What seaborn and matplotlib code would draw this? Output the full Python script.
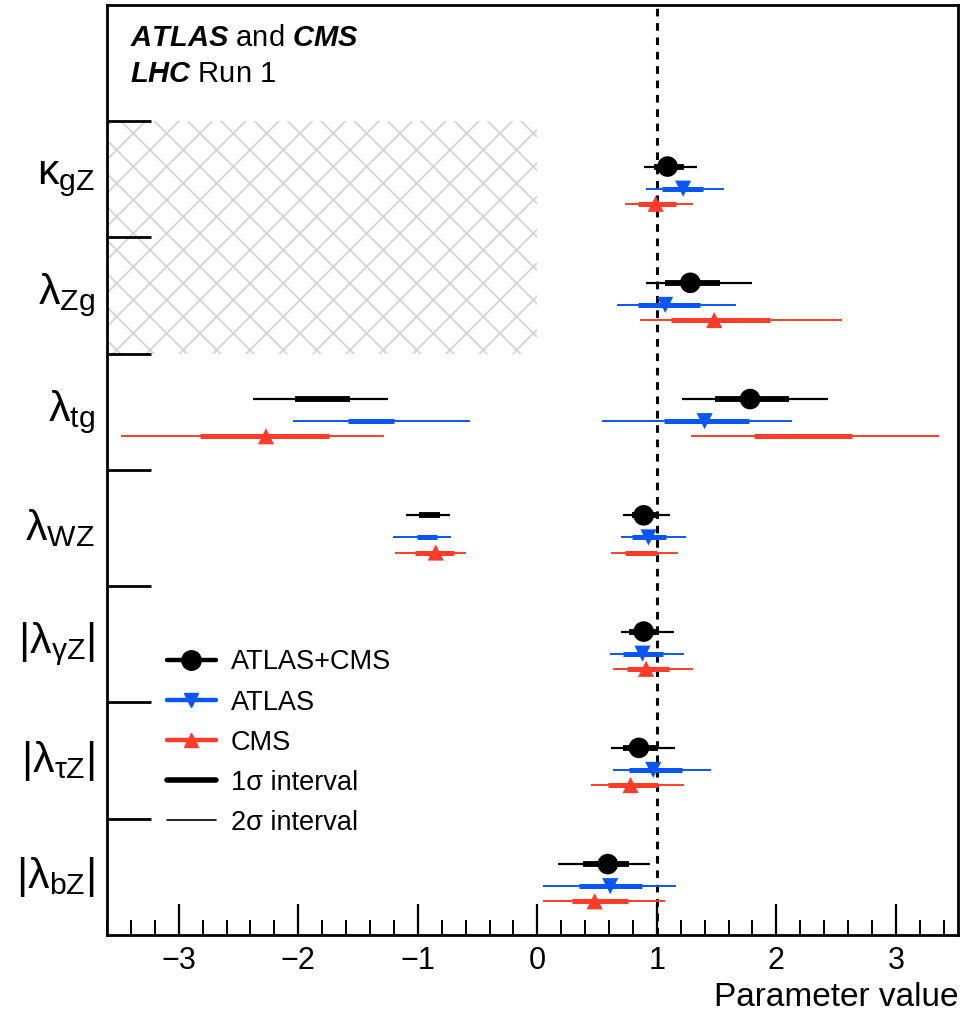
import numpy as np
import pandas as pd
import matplotlib
matplotlib.use("Agg")
import matplotlib.pyplot as plt
import seaborn as sns
from matplotlib.lines import Line2D
from matplotlib.patches import Rectangle

# parameters, top to bottom
params = [r"$\kappa_{gZ}$", r"$\lambda_{Zg}$", r"$\lambda_{tg}$", r"$\lambda_{WZ}$",
          r"$|\lambda_{\gamma Z}|$", r"$|\lambda_{\tau Z}|$", r"$|\lambda_{bZ}|$"]

# best-fit values
comb_best = [1.09, 1.28, 1.78, 0.89, 0.89, 0.85, 0.59]
atlas_best = [1.22, 1.07, 1.40, 0.93, 0.88, 0.97, 0.61]
cms_best = [0.99, 1.48, -2.27, -0.85, 0.91, 0.78, 0.48]

# 1 sigma / 2 sigma intervals (some parameters have two disjoint pieces)
comb_1s = [[(0.98, 1.23)], [(1.07, 1.53)], [(-2.03, -1.57), (1.49, 2.11)],
           [(-0.99, -0.81), (0.79, 0.99)], [(0.77, 1.02)], [(0.72, 1.01)], [(0.38, 0.77)]]
comb_2s = [[(0.89, 1.34)], [(0.91, 1.80)], [(-2.38, -1.25), (1.21, 2.43)],
           [(-1.10, -0.73), (0.72, 1.11)], [(0.70, 1.14)], [(0.62, 1.15)], [(0.17, 0.94)]]
atlas_1s = [[(1.04, 1.39)], [(0.84, 1.36)], [(-1.58, -1.20), (1.06, 1.77)],
            [(-1.01, -0.84), (0.79, 1.08)], [(0.72, 1.05)], [(0.77, 1.21)], [(0.35, 0.88)]]
atlas_2s = [[(0.91, 1.56)], [(0.67, 1.66)], [(-2.04, -0.56), (0.54, 2.13)],
            [(-1.21, -0.72), (0.70, 1.24)], [(0.61, 1.23)], [(0.63, 1.45)], [(0.05, 1.16)]]
cms_1s = [[(0.84, 1.16)], [(1.12, 1.95)], [(-2.82, -1.74), (1.81, 2.63)],
          [(-1.02, -0.70), (0.73, 1.00)], [(0.75, 1.10)], [(0.59, 1.01)], [(0.29, 0.76)]]
cms_2s = [[(0.73, 1.30)], [(0.86, 2.55)], [(-3.48, -1.28), (1.29, 3.36)],
          [(-1.19, -0.60), (0.62, 1.18)], [(0.63, 1.30)], [(0.45, 1.23)], [(0.05, 1.07)]]

# parameters that are defined positive only (hatched below 0)
positive_only = [r"$\kappa_{gZ}$", r"$\lambda_{Zg}$"]

sns.set_theme(style="ticks")
plt.rcParams["font.family"] = ["Liberation Sans", "DejaVu Sans"]
plt.rcParams["text.color"] = "black"
plt.rcParams["axes.labelcolor"] = "black"
plt.rcParams["xtick.color"] = "black"
plt.rcParams["ytick.color"] = "black"
plt.rcParams["mathtext.fontset"] = "custom"
plt.rcParams["mathtext.rm"] = "Liberation Sans"
plt.rcParams["mathtext.it"] = "Liberation Sans"
plt.rcParams["mathtext.bf"] = "Liberation Sans:bold:italic"
plt.rcParams["mathtext.default"] = "rm"
plt.rcParams["hatch.color"] = "#d4d4d4"
plt.rcParams["hatch.linewidth"] = 1.3

series = ["ATLAS+CMS", "ATLAS", "CMS"]
colors = {"ATLAS+CMS": "black", "ATLAS": "#0a56f5", "CMS": "#fd3d2a"}
markers = {"ATLAS+CMS": "o", "ATLAS": "v", "CMS": "^"}
msize = {"ATLAS+CMS": 220, "ATLAS": 135, "CMS": 135}
offset = {"ATLAS+CMS": 0.61, "ATLAS": 0.42, "CMS": 0.29}
lw1 = {"ATLAS+CMS": 4.2, "ATLAS": 3.6, "CMS": 3.6}
lw2 = {"ATLAS+CMS": 1.6, "ATLAS": 1.4, "CMS": 1.4}

n = len(params)
row_base = {p: n - 1 - i for i, p in enumerate(params)}

best = pd.DataFrame({
    "param": params * 3,
    "series": np.repeat(series, n),
    "value": comb_best + atlas_best + cms_best,
})
best["y"] = [row_base[p] + offset[s] for p, s in zip(best["param"], best["series"])]

fig = plt.figure(figsize=(9.67, 10.14), dpi=100)
ax = fig.add_axes([0.1107, 0.0779, 0.880, 0.9172])

xmin, xmax = -3.6, 3.52
ax.set_xlim(xmin, xmax)
ax.set_ylim(0, n + 1)

# hatched excluded region
for p in positive_only:
    ax.add_patch(Rectangle((xmin, row_base[p]), 0 - xmin, 1, facecolor="none",
                           edgecolor="#d4d4d4", hatch="x", linewidth=0, zorder=0))

ax.axvline(1, color="black", ls=(0, (2.5, 2.2)), lw=2.2, zorder=1)

ints = {"ATLAS+CMS": (comb_1s, comb_2s), "ATLAS": (atlas_1s, atlas_2s), "CMS": (cms_1s, cms_2s)}
for s in series:
    one, two = ints[s]
    for p, segs1, segs2 in zip(params, one, two):
        y = row_base[p] + offset[s]
        for lo, hi in segs2:
            ax.hlines(y, lo, hi, color=colors[s], lw=lw2[s], zorder=2)
        for lo, hi in segs1:
            ax.hlines(y, lo, hi, color=colors[s], lw=lw1[s], zorder=3)

for s in series:
    sub = best[best["series"] == s]
    sns.scatterplot(data=sub, x="value", y="y", marker=markers[s], s=msize[s],
                    color=colors[s], edgecolor="none", linewidth=0, zorder=4,
                    legend=False, ax=ax)

# axes styling
ax.set_yticks(range(1, n + 1))
ax.set_yticklabels([])
ax.tick_params(axis="y", direction="in", length=32, width=2, left=True, right=False)
ax.set_xticks(range(-3, 4))
ax.set_xticks(np.arange(-3.6, 3.6, 0.2), minor=True)
ax.set_xticklabels(["\u22123", "\u22122", "\u22121", "0", "1", "2", "3"], fontsize=22)
ax.tick_params(axis="x", which="major", direction="in", length=22, width=1.6,
               top=False, pad=8)
ax.tick_params(axis="x", which="minor", direction="in", length=11, width=1.4, top=False)
for sp in ax.spines.values():
    sp.set_linewidth(2)
    sp.set_color("black")
ax.set_xlabel("Parameter value", fontsize=24, loc="right", labelpad=4)
ax.set_ylabel("")

for p in params:
    ax.text(-0.014, (row_base[p] + 0.5) / (n + 1), p, transform=ax.transAxes,
            ha="right", va="center", fontsize=31)

ax.text(0.027, 0.964, r"$\mathbf{ATLAS}$ and $\mathbf{CMS}$", transform=ax.transAxes,
        fontsize=21, va="center")
ax.text(0.027, 0.926, r"$\mathbf{LHC}$ Run 1", transform=ax.transAxes,
        fontsize=21, va="center")

handles = [
    Line2D([], [], color="black", lw=3.2, marker="o", markersize=14),
    Line2D([], [], color=colors["ATLAS"], lw=3.2, marker="v", markersize=10),
    Line2D([], [], color=colors["CMS"], lw=3.2, marker="^", markersize=10),
    Line2D([], [], color="black", lw=4),
    Line2D([], [], color="black", lw=1.2),
]
labels = ["ATLAS+CMS", "ATLAS", "CMS", "1\u03c3 interval", "2\u03c3 interval"]
ax.legend(handles, labels, loc="upper left", bbox_to_anchor=(0.0705, 0.307),
          frameon=False, fontsize=19.5, handlelength=1.8, handletextpad=0.55,
          labelspacing=0.52, borderpad=0, borderaxespad=0)

fig.savefig("out.png", dpi=100)
